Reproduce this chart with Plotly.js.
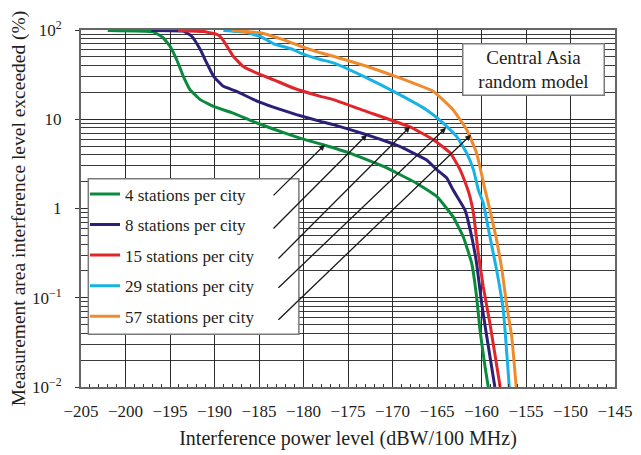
<!DOCTYPE html>
<html>
<head>
<meta charset="utf-8">
<script src="https://cdn.plot.ly/plotly-3.0.1.min.js"></script>
<style>
  html, body { margin: 0; padding: 0; background: #ffffff; }
  #chart { width: 641px; height: 455px; }
</style>
</head>
<body>
<div id="chart"></div>
<script>
// Interference power level (dBW/100 MHz) vs. percentage of measurement area exceeded
const seriesNames = [
  "4 stations per city",
  "8 stations per city",
  "15 stations per city",
  "29 stations per city",
  "57 stations per city"
];
const seriesColors = ["#0b8a3e", "#2a2078", "#e1262b", "#18b2e4", "#ef8b2c"];

const x4 = [-202, -196.9, -195.8, -195.0, -194.25, -193.5, -192.75, -191.6, -190.1, -187.9, -185.7, -183.4, -180.4, -177.8, -174.8, -171.0, -167.3, -165.0, -163.2, -162.05, -161.1, -160.55, -160.17, -159.6, -159.24];
const y4 = [99, 95.4, 82.4, 65.8, 46.6, 30.3, 21.5, 16.6, 13.9, 11.7, 9.46, 7.78, 6.15, 5.18, 4.18, 2.96, 1.92, 1.36, 0.81, 0.483, 0.243, 0.1026, 0.0434, 0.0168, 0.01];

const x8 = [-197.1, -193.5, -192.56, -191.6, -190.88, -190.1, -189.0, -187.5, -185.6, -183.4, -180.8, -178.1, -176.65, -172.9, -169.2, -166.2, -165.0, -163.9, -163.2, -161.85, -161.1, -160.55, -159.98, -159.4, -158.5];
const y8 = [99, 97, 85.2, 60.4, 42.8, 30.3, 23.4, 20.5, 16.6, 13.7, 11.25, 9.46, 8.7, 6.71, 4.96, 3.51, 2.71, 2.2, 1.62, 0.96, 0.483, 0.243, 0.0865, 0.0364, 0.01];

const x15 = [-194.1, -191.2, -190.5, -189.8, -189.4, -189.0, -188.6, -187.9, -186.8, -185.3, -183.4, -181.15, -178.1, -176.65, -172.9, -168.03, -165.4, -163.5, -162.4, -161.66, -161.3, -160.9, -160.36, -159.8, -159.05, -157.9];
const y15 = [99, 96, 93, 90, 85.2, 76, 65.8, 50.8, 39.2, 33.0, 27.8, 22.4, 18.07, 16.6, 12.2, 8.2, 5.9, 4.18, 2.71, 1.76, 1.36, 0.885, 0.315, 0.133, 0.0515, 0.01];

const x29 = [-189.0, -186.4, -185.6, -184.9, -183.4, -181.15, -180.4, -178.1, -176.65, -172.9, -169.2, -166.2, -164.3, -162.8, -161.66, -160.9, -160.36, -159.8, -159.05, -158.3, -157.55, -156.88];
const y29 = [99, 94.5, 89, 85.2, 70.5, 60.4, 55.5, 46.7, 42.8, 29.1, 18.9, 12.8, 9.07, 6.42, 4.18, 2.71, 1.62, 1.15, 0.483, 0.205, 0.0726, 0.01];

const x57 = [-188.1, -184.9, -182.3, -179.6, -178.1, -176.65, -172.9, -169.2, -165.4, -163.2, -161.66, -160.55, -159.6, -159.05, -158.3, -157.7, -157.2, -156.6, -156.1];
const y57 = [99, 93, 78, 62, 55.5, 50.8, 39.2, 29.1, 20.5, 12.8, 7.63, 4.18, 1.62, 0.96, 0.444, 0.205, 0.0865, 0.0364, 0.01];

const seriesX = [x4, x8, x15, x29, x57];
const seriesY = [y4, y8, y15, y29, y57];

// Callout arrows: from the legend towards each curve
const calloutHeadX = [-177.6, -172.87, -168.03, -163.99, -161.18];
const calloutHeadY = [5.18, 6.71, 8.25, 8.04, 6.71];
const calloutTailX = [-183.54, -183.54, -182.98, -182.98, -182.98];
const calloutTailY = [1.35, 0.575, 0.265, 0.125, 0.0547];

const xTickVals = [-205, -200, -195, -190, -185, -180, -175, -170, -165, -160, -155, -150, -145];
const yTickVals = [0.01, 0.1, 1, 10, 100];
const yTickText = ["10<sup>\u22122</sup>", "10<sup>\u22121</sup>", "1", "10", "10<sup>2</sup>"];

const yMinorVals = [];
[0.01, 0.1, 1, 10].forEach(d => { for (let k = 2; k <= 9; k++) yMinorVals.push(+(d * k).toPrecision(3)); });

const serif = "'Times New Roman', 'Liberation Serif', 'DejaVu Serif', serif";

const traces = seriesNames.map((name, i) => ({
  type: "scatter",
  mode: "lines",
  name: name,
  legendgroup: "g" + i,
  x: seriesX[i],
  y: seriesY[i],
  line: { color: seriesColors[i], width: 3, shape: "spline", smoothing: 0.35 },
  hoverinfo: "skip"
}));

const arrows = calloutHeadX.map((hx, i) => ({
  x: hx, y: Math.log10(calloutHeadY[i]),
  ax: calloutTailX[i], ay: Math.log10(calloutTailY[i]),
  xref: "x", yref: "y", axref: "x", ayref: "y",
  text: "", showarrow: true,
  arrowhead: 2, arrowsize: 0.9, arrowwidth: 1.3, arrowcolor: "#1a1a1a", standoff: 0
}));

const layout = {
  width: 641, height: 455,
  margin: { l: 81, r: 26, t: 30, b: 68 },
  paper_bgcolor: "#ffffff",
  plot_bgcolor: "#ffffff",
  font: { family: serif, color: "#231f20", size: 17 },
  showlegend: true,
  legend: {
    x: 0.0075, y: 0.59, xanchor: "left", yanchor: "top",
    bgcolor: "rgba(0,0,0,0)", borderwidth: 0,
    font: { family: serif, size: 17, color: "#231f20" },
    traceorder: "grouped", tracegroupgap: 5.5
  },
  xaxis: {
    range: [-205, -145],
    tickmode: "array", tickvals: xTickVals,
    ticks: "inside", ticklen: 4, tickcolor: "#333",
    ticklabelstandoff: 8,
    showgrid: true, gridcolor: "#2a2a2a", gridwidth: 1,
    zeroline: false,
    showline: true, linecolor: "#666", linewidth: 2, mirror: true,
    minor: { dtick: 1, tick0: -205, ticks: "inside", ticklen: 3, tickcolor: "#333", showgrid: false },
    tickfont: { family: serif, size: 17 },
    title: { text: "Interference power level (dBW/100 MHz)", font: { family: serif, size: 20 }, standoff: 11 }
  },
  yaxis: {
    type: "log",
    range: [-2, 2],
    tickmode: "array", tickvals: yTickVals, ticktext: yTickText,
    ticks: "outside", ticklen: 4, tickcolor: "#333",
    ticklabelstandoff: 10,
    showgrid: true, gridcolor: "#2a2a2a", gridwidth: 1,
    zeroline: false,
    showline: true, linecolor: "#666", linewidth: 2, mirror: true,
    minor: { tickmode: "array", tickvals: yMinorVals, ticks: "", showgrid: true, gridcolor: "#3a3a3a", gridwidth: 1 },
    tickfont: { family: serif, size: 17 },
    title: { text: "Measurement area interference level exceeded (%)", font: { family: serif, size: 19.5 }, standoff: 1 }
  },
  shapes: [
    {
      type: "rect", xref: "paper", yref: "paper", layer: "above",
      x0: 0.0137, x1: 0.408, y0: 0.148, y1: 0.583,
      fillcolor: "#ffffff", line: { color: "#7a7a7a", width: 1.5 }
    }
  ],
  annotations: arrows.concat([
    {
      xref: "paper", yref: "paper", x: 0.847, y: 0.888, xanchor: "center", yanchor: "middle",
      text: "Central Asia<br>random model", showarrow: false,
      font: { family: serif, size: 19, color: "#231f20" },
      align: "center", width: 136, height: 46,
      bgcolor: "#ffffff", bordercolor: "#7a7a7a", borderwidth: 1.5, borderpad: 2
    }
  ])
};

Plotly.newPlot("chart", traces, layout, { displayModeBar: false, staticPlot: true });
</script>
</body>
</html>
